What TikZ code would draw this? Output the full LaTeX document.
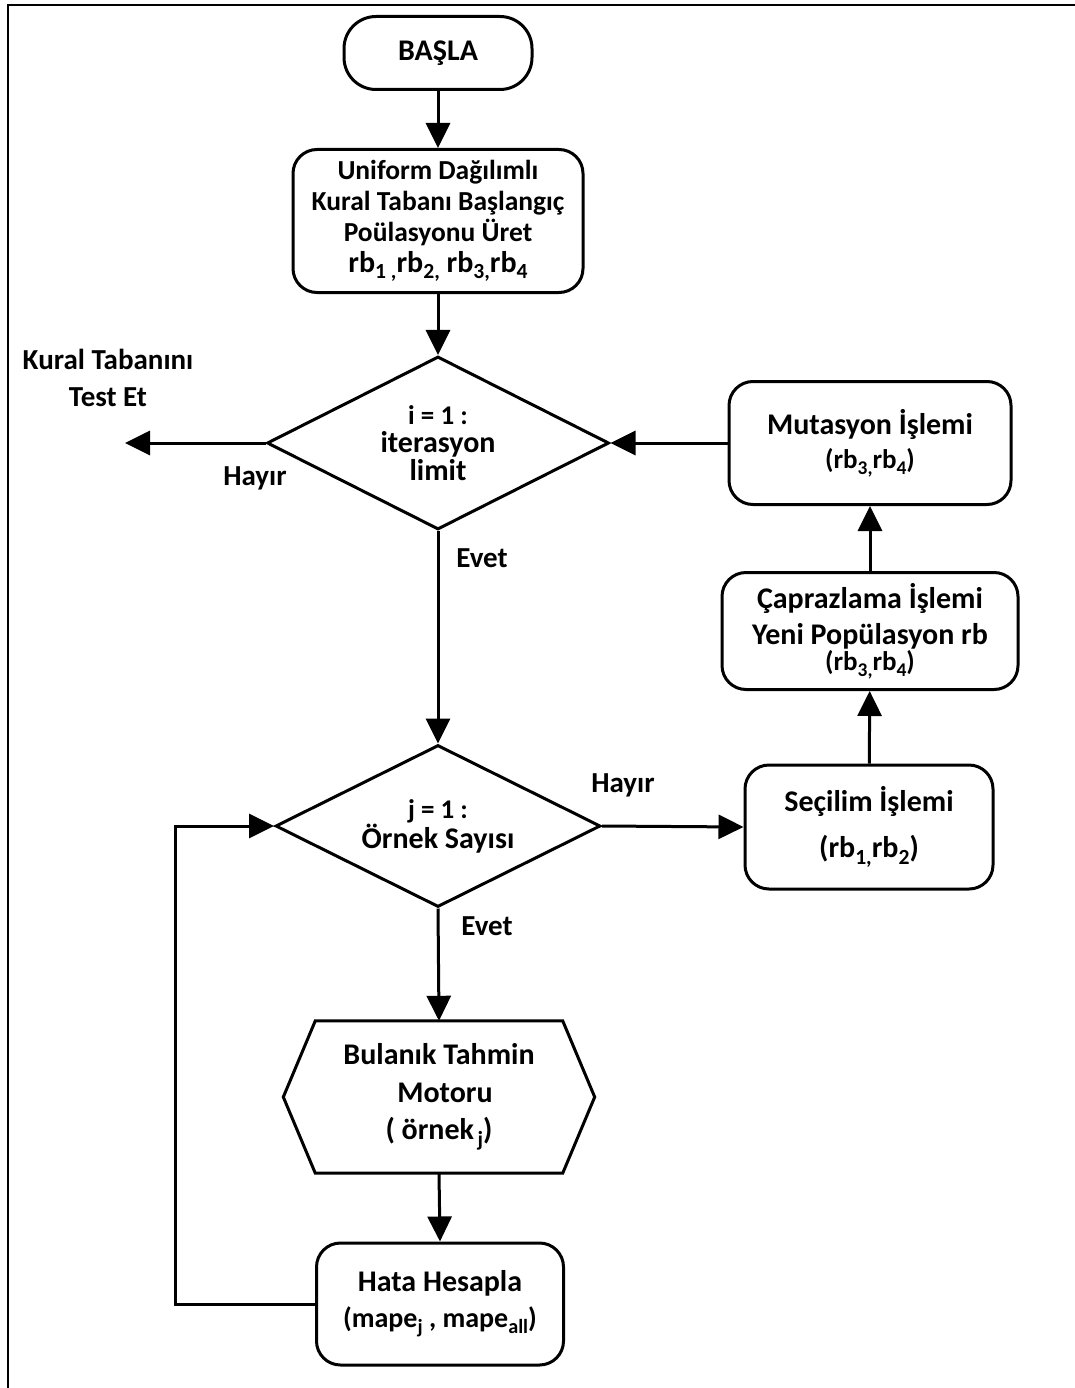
\documentclass[tikz,border=0pt]{standalone}
\usepackage{fontspec}
\setmainfont{Carlito}
\usetikzlibrary{shapes.geometric,arrows.meta,calc}
% lowered small index (rb_1, mape_j ...)
\newcommand{\lowidx}[1]{\raisebox{-0.45ex}{\scalebox{0.72}{#1}}}
\begin{document}
\begin{tikzpicture}[x=1pt,y=-1pt,
  flow/.style={line width=3pt},
  arr/.style={flow,-{Triangle[length=25pt,width=24pt]}},
  bigtxt/.style={font=\bfseries\fontsize{30}{36}\selectfont},
  procbox/.style={draw,line width=3pt,rounded corners=24pt,align=center,
    inner sep=0pt,bigtxt},
  decision/.style={draw,diamond,aspect=2,line width=3pt,inner sep=0pt,
    align=center,font=\bfseries\fontsize{30}{28}\selectfont},
  lbl/.style={font=\bfseries\fontsize{29}{37}\selectfont,inner sep=0pt,align=center}]
\useasboundingbox (0,0) rectangle (1075,1388);

% page frame (top and left rules)
\draw[line width=2pt] (1075,5) -- (8,5) -- (8,1388);

% boxes
\node[procbox, minimum width=188pt, minimum height=73pt, rounded corners=32pt]
  (start) at (438,53) {BAŞLA};
\node[procbox, minimum width=290pt, minimum height=143pt,
  font=\bfseries\fontsize{27.5}{31}\selectfont]
  (init) at (438,221) {Uniform Dağılımlı\\Kural Tabanı Başlangıç\\Poülasyonu Üret\\
  {\fontsize{30}{31}\selectfont rb\lowidx{1 ,}rb\lowidx{2,} rb\lowidx{3,}rb\lowidx{4}}};
\node[decision, minimum width=342pt, minimum height=173pt]
  (d1) at (438,443) {{\fontsize{27}{28}\selectfont i = 1 :}\\iterasyon\\limit};
\node[procbox, minimum width=282pt, minimum height=123pt]
  (mut) at (870,443) {Mutasyon İşlemi\\[-2pt]
  {\fontsize{27}{27}\selectfont (rb\lowidx{3,}rb\lowidx{4})}};
\node[procbox, minimum width=296pt, minimum height=117pt]
  (cross) at (870,631) {Çaprazlama İşlemi\\Yeni Popülasyon rb\\[-10pt]
  {\fontsize{27}{27}\selectfont (rb\lowidx{3,}rb\lowidx{4})}};
\node[decision, minimum width=325pt, minimum height=162pt,
  font=\bfseries\fontsize{30}{30}\selectfont]
  (d2) at (438,826) {{\fontsize{27}{30}\selectfont j = 1 :}\\Örnek Sayısı};
\node[procbox, minimum width=248pt, minimum height=124pt]
  (sel) at (869,827) {Seçilim İşlemi\\[10pt](rb\lowidx{1,}rb\lowidx{2})};
\node[align=center, inner sep=0pt, minimum width=247pt, minimum height=152pt,
  font=\bfseries\fontsize{30}{37.5}\selectfont]
  (hex) at (439,1097) {Bulanık Tahmin\\\hspace*{12pt}Motoru\\( örnek\lowidx{\,j})};
\draw[line width=3pt,line join=miter]
  (hex.north west) -- (hex.north east) -- ($(hex.east)+(32,0)$)
  -- (hex.south east) -- (hex.south west) -- ($(hex.west)+(-32,0)$) -- cycle;
\node[procbox, minimum width=247pt, minimum height=122pt]
  (hata) at (440,1304) {Hata Hesapla\\[0pt]
  {\fontsize{28}{28}\selectfont (mape\lowidx{j} , mape\lowidx{all})}};

% free ends
\coordinate (testend) at (125,443);
\coordinate (loop) at (175,1304);

% connectors
\draw[arr] (start) -- (init);
\draw[arr] (init) -- (d1);
\draw[arr] (d1.west) -- (testend);
\draw[arr] (d1.south) -- (d2.north);
\draw[arr] (d2.east) -- (sel.west);
\draw[arr] (sel) -- (cross);
\draw[arr] (cross) -- (mut);
\draw[arr] (mut.west) -- (d1.east);
\draw[arr] (d2.south) -- (hex.north);
\draw[arr] (hex.south) -- (hata.north);
\draw[arr,line join=miter] (hata.west) -- (loop) |- (d2.west);

% labels
\node[lbl] (test) at (108,378) {Kural Tabanını\\Test Et};
\node[lbl] (no1) at (255,478) {Hayır};
\node[lbl] (yes1) at (482,558) {Evet};
\node[lbl] (no2) at (623,785) {Hayır};
\node[lbl] (yes2) at (487,926) {Evet};
\end{tikzpicture}
\end{document}
